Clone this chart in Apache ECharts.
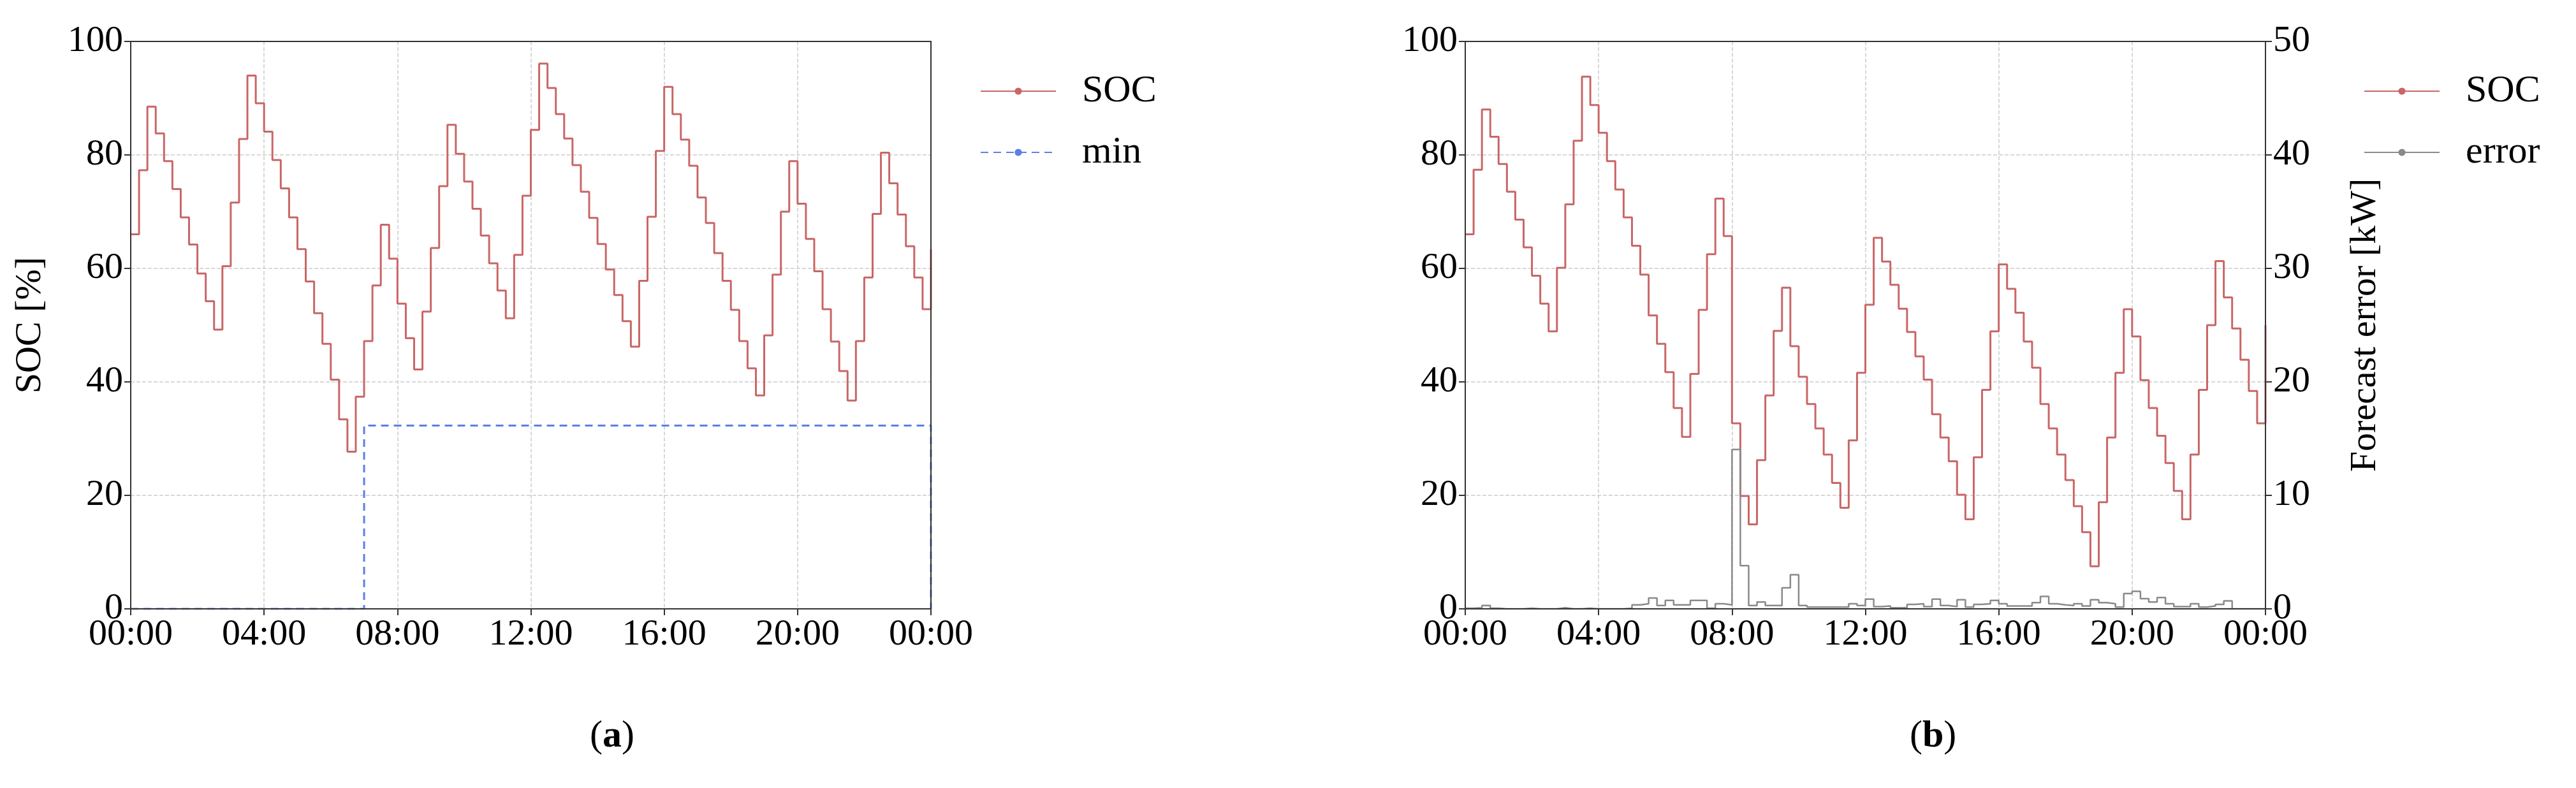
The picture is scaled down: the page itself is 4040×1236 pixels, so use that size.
<!DOCTYPE html>
<html><head><meta charset="utf-8">
<script src="https://cdn.jsdelivr.net/npm/echarts@6/dist/echarts.min.js"></script>
<style>html,body{margin:0;padding:0;background:#fff}#c{width:4040px;height:1236px}</style>
</head><body><div id="c"></div>
<script>
// 15-minute steps, value holds from step start; last entry = value at 24:00 end
const socA = [66.0,77.3,88.5,83.8,78.9,74.0,69.0,64.2,59.1,54.2,49.2,60.4,71.6,82.8,94.0,89.1,
84.1,79.1,74.1,69.0,63.4,57.7,52.1,46.7,40.4,33.4,27.7,37.4,47.2,57.0,67.7,61.7,
53.8,47.7,42.2,52.4,63.6,74.5,85.3,80.2,75.3,70.5,65.8,60.9,56.1,51.2,62.4,72.8,
84.4,96.1,91.8,87.2,82.9,78.2,73.5,68.9,64.3,59.8,55.3,50.7,46.2,57.8,69.1,80.7,
92.0,87.2,82.7,78.1,72.5,68.0,62.7,57.8,52.7,47.2,42.4,37.6,48.2,58.9,70.0,78.9,
71.4,65.2,59.5,52.8,47.1,41.9,36.7,47.2,58.4,69.6,80.4,75.0,69.5,63.9,58.4,52.8,63.4];
const minHours = [0,7,24,24];
const minVals = [0,32.3,32.3,0];
const socB = [66.0,77.4,88.0,83.2,78.4,73.5,68.6,63.7,58.7,53.8,48.9,60.1,71.3,82.5,93.8,88.8,
83.9,78.9,73.9,69.0,64.0,58.9,51.7,46.7,41.7,35.4,30.3,41.4,52.7,62.5,72.3,65.7,
32.7,19.9,14.9,26.2,37.6,49.0,56.6,46.3,40.9,36.1,31.8,27.2,22.2,17.8,29.7,41.6,
53.6,65.4,61.2,57.1,52.9,48.8,44.5,40.4,34.3,30.2,26.0,20.1,15.8,26.7,38.6,48.9,
60.7,56.4,52.2,47.1,42.5,36.1,31.8,27.2,22.7,18.1,13.5,7.5,18.8,30.2,41.6,52.8,
48.0,40.3,35.4,30.5,25.7,20.8,15.8,27.2,38.6,50.0,61.3,54.9,49.4,43.9,38.4,32.7,50.0];
const errB = [0.05,0.1,0.3,0.05,0,0,0,0.05,0,0,0,0.1,0,0,0.05,0,
0,0,0,0.05,0.35,0.45,0.95,0.3,0.75,0.35,0.35,0.75,0.75,0.05,0.45,0.35,
14.05,3.8,0.3,0.6,0.3,0.3,1.85,3.0,0.3,0.15,0.15,0.15,0.15,0.15,0.45,0.3,
0.85,0.2,0.25,0.1,0.1,0.4,0.45,0.2,0.85,0.3,0.2,0.8,0.15,0.4,0.45,0.75,
0.45,0.25,0.25,0.25,0.55,1.1,0.45,0.35,0.3,0.45,0.25,0.8,0.55,0.45,0.15,1.35,
1.55,0.9,0.6,1.0,0.45,0.2,0.2,0.45,0.15,0.25,0.4,0.7,0,0,0,0,0];
const xTicks = ['00:00','04:00','08:00','12:00','16:00','20:00','00:00'];

const pairs = arr => arr.map((v,i)=>[i*0.25,v]);
const FONT = '"Liberation Serif","DejaVu Serif",serif';
const SOCC = '#c96666', MINC = '#5a7fe6', ERRC = '#8a8a8a';
const axisLab = {fontFamily:FONT,fontSize:58,color:'#000'};
function xAxis(g){return {type:'value',gridIndex:g,min:0,max:24,interval:4,
  axisLine:{onZero:false,lineStyle:{color:'#333',width:2}},axisTick:{length:10,lineStyle:{color:'#333',width:2}},
  axisLabel:Object.assign({},axisLab,{margin:12,formatter:v=>xTicks[v/4]}),
  splitLine:{show:true,lineStyle:{type:'dashed',color:'#ccc',width:1.5}}};}
function yAxis(g,o){return Object.assign({type:'value',gridIndex:g,min:0,max:100,interval:20,
  axisLine:{show:true,lineStyle:{color:'#333',width:2}},axisTick:{show:true,length:10,lineStyle:{color:'#333',width:2}},
  axisLabel:Object.assign({},axisLab,{margin:12}),
  splitLine:{show:true,lineStyle:{type:'dashed',color:'#ccc',width:1.5}},
  nameTextStyle:{fontFamily:FONT,fontSize:58,color:'#000'}},o||{});}
const chart = echarts.init(document.getElementById('c'));
const legText = {fontFamily:FONT,fontSize:60,color:'#000',padding:[0,0,0,36]};
chart.setOption({
  animation:false,backgroundColor:'#fff',
  grid:[{left:205,top:65,width:1255,height:890,show:true,borderColor:'#333',borderWidth:2,z:5},
        {left:2298,top:65,width:1255,height:890,show:true,borderColor:'#333',borderWidth:2,z:5}],
  xAxis:[xAxis(0),xAxis(1)],
  yAxis:[yAxis(0,{name:'SOC [%]',nameLocation:'middle',nameGap:128}),
         yAxis(1),
         yAxis(1,{position:'right',max:50,interval:10,splitLine:{show:false},
           name:'Forecast error [kW]',nameLocation:'middle',nameGap:128,nameRotate:90})],
  legend:[{left:1532,top:108,orient:'vertical',itemWidth:118,itemHeight:14,itemGap:36,
           textStyle:legText,data:[{name:'SOC'},{name:'min'}]},
          {left:3702,top:108,orient:'vertical',itemWidth:118,itemHeight:14,itemGap:36,
           textStyle:legText,data:[{name:'SOC '},{name:'error'}]}],
  graphic:[{type:'text',left:925,top:1125,style:{text:'({b|a})',font:'60px '+FONT,fill:'#000',
             rich:{b:{fontFamily:FONT,fontSize:60,fontWeight:'bold'}}}},
           {type:'text',left:2995,top:1125,style:{text:'({b|b})',font:'60px '+FONT,fill:'#000',
             rich:{b:{fontFamily:FONT,fontSize:60,fontWeight:'bold'}}}}],
  series:[
    {name:'SOC',type:'line',step:'end',xAxisIndex:0,yAxisIndex:0,symbol:'none',data:pairs(socA),
     lineStyle:{color:SOCC,width:3},itemStyle:{color:SOCC}},
    {name:'min',type:'line',step:'end',xAxisIndex:0,yAxisIndex:0,symbol:'none',
     data:minHours.map((h,i)=>[h,minVals[i]]),lineStyle:{color:MINC,width:3,type:[12,8]},itemStyle:{color:MINC}},
    {name:'SOC ',type:'line',step:'end',xAxisIndex:1,yAxisIndex:1,symbol:'none',data:pairs(socB),
     lineStyle:{color:SOCC,width:3},itemStyle:{color:SOCC}},
    {name:'error',type:'line',step:'end',xAxisIndex:1,yAxisIndex:2,symbol:'none',data:pairs(errB),
     lineStyle:{color:ERRC,width:2.5},itemStyle:{color:ERRC}}
  ]
});
</script></body></html>
